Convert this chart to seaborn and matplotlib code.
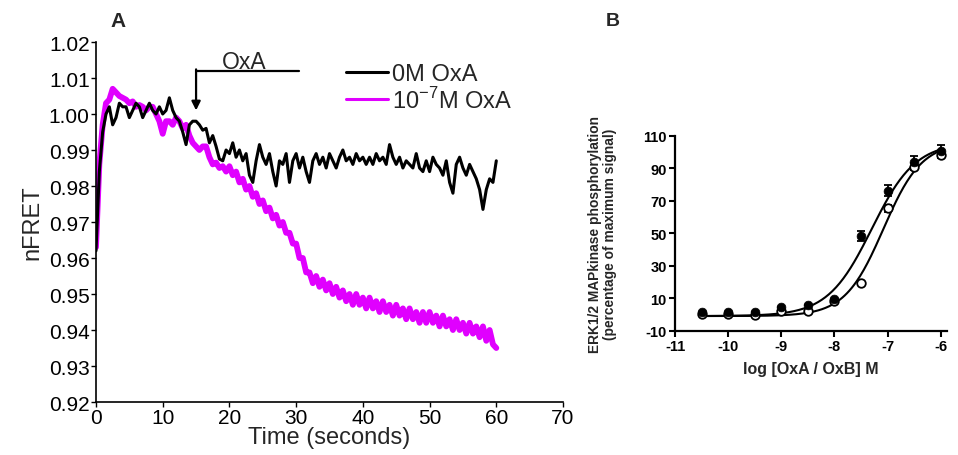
import numpy as np
import pandas as pd
import matplotlib
matplotlib.use("Agg")
import matplotlib.pyplot as plt
import seaborn as sns

# ---------------- Panel A data (nFRET traces, sampled every 0.5 s) ----------------
time_s = [i * 0.5 for i in range(121)]
nfret_0M = [
    0.962, 0.984, 0.995, 1.000, 1.002, 0.997, 0.999, 1.003, 1.002, 1.002,
    0.999, 1.001, 1.003, 1.002, 0.999, 1.001, 1.003, 1.001, 1.000, 1.002,
    1.000, 1.001, 1.0045, 1.001, 0.999, 0.998, 0.995, 0.9915, 0.997, 0.998,
    0.998, 0.997, 0.9955, 0.996, 0.992, 0.994, 0.991, 0.9875, 0.987, 0.990,
    0.989, 0.992, 0.988, 0.990, 0.987, 0.989, 0.983, 0.981, 0.987, 0.9915,
    0.988, 0.986, 0.989, 0.984, 0.980, 0.987, 0.986, 0.989, 0.981, 0.987,
    0.989, 0.985, 0.988, 0.984, 0.981, 0.987, 0.989, 0.986, 0.988, 0.985,
    0.989, 0.987, 0.985, 0.988, 0.990, 0.987, 0.988, 0.986, 0.989, 0.987,
    0.988, 0.986, 0.988, 0.986, 0.989, 0.987, 0.988, 0.986, 0.9915, 0.988,
    0.986, 0.988, 0.985, 0.987, 0.986, 0.985, 0.989, 0.985, 0.984, 0.987,
    0.984, 0.988, 0.986, 0.985, 0.983, 0.987, 0.981, 0.978, 0.986, 0.988,
    0.985, 0.983, 0.986, 0.984, 0.982, 0.979, 0.9735, 0.979, 0.982, 0.981,
    0.987,
]
nfret_1e7M = [
    0.963, 0.986, 0.997, 1.003, 1.004, 1.007, 1.006, 1.005, 1.0045, 1.004,
    1.003, 1.0035, 1.002, 1.0025, 1.002, 1.001, 1.002, 1.002, 1.000, 0.998,
    0.9945, 0.998, 0.998, 0.997, 0.999, 0.998, 0.996, 0.997, 0.994, 0.992,
    0.991, 0.990, 0.991, 0.991, 0.988, 0.986, 0.9865, 0.985, 0.9855, 0.984,
    0.9855, 0.983, 0.984, 0.981, 0.982, 0.979, 0.980, 0.977, 0.978, 0.975,
    0.976, 0.973, 0.974, 0.971, 0.972, 0.969, 0.970, 0.967, 0.967, 0.964,
    0.964, 0.960, 0.960, 0.956, 0.956, 0.953, 0.955, 0.952, 0.954, 0.951,
    0.953, 0.950, 0.952, 0.949, 0.951, 0.948, 0.950, 0.947, 0.950, 0.947,
    0.949, 0.946, 0.949, 0.946, 0.948, 0.945, 0.948, 0.945, 0.947, 0.944,
    0.947, 0.944, 0.946, 0.943, 0.946, 0.943, 0.945, 0.942, 0.945, 0.942,
    0.945, 0.942, 0.944, 0.941, 0.944, 0.941, 0.943, 0.940, 0.943, 0.940,
    0.942, 0.939, 0.942, 0.939, 0.941, 0.938, 0.941, 0.937, 0.940, 0.936,
    0.935,
]
series_names = ["0M OxA", r"10$^{\mathregular{-7}}$M OxA"]
series_colors = ["#000000", "#e000ff"]
oxa_start, oxa_end = 15, 30.5
yticks_a = [0.92, 0.93, 0.94, 0.95, 0.96, 0.97, 0.98, 0.99, 1.00, 1.01, 1.02]
xticks_a = [0, 10, 20, 30, 40, 50, 60, 70]

# ---------------- Panel B data (ERK1/2 phosphorylation) ----------------
log_conc = [-10.5, -10.0, -9.5, -9.0, -8.5, -8.0, -7.5, -7.0, -6.5, -6.0]
filled_mean = [1.3, 1.3, 1.3, 4.4, 5.8, 9.5, 48.1, 76.2, 94.0, 100.4]
filled_err = [0, 0, 0, 0, 0, 0, 3.0, 3.3, 3.6, 3.9]
open_mean = [0.0, 0.0, -0.5, 2.3, 2.3, 8.0, 19.1, 65.3, 90.9, 98.0]
open_err = [0, 0, 0, 0, 0, 0, 0, 2.0, 2.0, 2.0]
# fitted sigmoid parameters (bottom, top, logEC50, hill)
fit_filled = (-1.0, 106.0, -7.30, 1.05)
fit_open = (-1.0, 106.0, -7.08, 1.20)
xticks_b = [-11, -10, -9, -8, -7, -6]
yticks_b = [-10, 10, 30, 50, 70, 90, 110]

# ---------------- style ----------------
sns.set_style("ticks")
plt.rcParams["font.family"] = ["Liberation Sans", "DejaVu Sans"]
plt.rcParams["mathtext.fontset"] = "custom"
plt.rcParams["mathtext.rm"] = "Liberation Sans"

fig = plt.figure(figsize=(9.58, 4.56), dpi=100)

# ---------------- Panel A ----------------
axA = fig.add_axes([0.1002, 0.1162, 0.4875, 0.7895])
dfA = pd.DataFrame({"t": time_s, "a": nfret_0M, "b": nfret_1e7M})
sns.lineplot(data=dfA, x="t", y="b", ax=axA, color=series_colors[1], lw=4.2,
             estimator=None, label=series_names[1], zorder=2)
sns.lineplot(data=dfA, x="t", y="a", ax=axA, color=series_colors[0], lw=2.2,
             estimator=None, label=series_names[0], zorder=3)
axA.set_xlim(0, 70)
axA.set_ylim(0.92, 1.02)
axA.set_xticks(xticks_a)
axA.set_yticks(yticks_a)
axA.set_yticklabels([f"{v:.2f}" for v in yticks_a])
axA.tick_params(labelsize=15, length=3.5, width=1, direction="out", pad=1, colors="black")
axA.set_xlabel("Time (seconds)", fontsize=17, labelpad=-1)
axA.set_ylabel("nFRET", fontsize=17, labelpad=4)
for s in ["top", "right"]:
    axA.spines[s].set_visible(False)
for s in ["left", "bottom"]:
    axA.spines[s].set_linewidth(1.2)
    axA.spines[s].set_color("black")

# OxA application bracket
axA.plot([oxa_start, oxa_end], [1.0119, 1.0119], color="black", lw=1.6)
axA.annotate("", xy=(oxa_start, 1.0010), xytext=(oxa_start, 1.0124),
             arrowprops=dict(arrowstyle="-|>", color="black", lw=1.6,
                             mutation_scale=13, shrinkA=0, shrinkB=0))
axA.text(22.2, 1.0147, "OxA", fontsize=16.5, ha="center", va="center")

h, l = axA.get_legend_handles_labels()
leg = axA.legend(h[::-1], l[::-1], loc="upper left", bbox_to_anchor=(0.536, 0.942),
                 frameon=False, fontsize=17, handlelength=1.75, handletextpad=0.2,
                 labelspacing=0.08, borderpad=0, borderaxespad=0)
for line in leg.get_lines():
    line.set_linewidth(2.2)

fig.text(0.123, 0.952, "A", fontsize=15, fontweight="bold", ha="center", va="center")

# ---------------- Panel B ----------------
axB = fig.add_axes([0.7046, 0.2726, 0.2840, 0.4276])
xs = np.linspace(log_conc[0], log_conc[-1], 200)

def hill(x, p):
    b, t, ec, n = p
    return b + (t - b) / (1 + 10 ** ((ec - x) * n))

dfcurve = pd.DataFrame({"x": xs, "f": hill(xs, fit_filled), "o": hill(xs, fit_open)})
sns.lineplot(data=dfcurve, x="x", y="f", ax=axB, color="black", lw=1.5, estimator=None)
sns.lineplot(data=dfcurve, x="x", y="o", ax=axB, color="black", lw=1.5, estimator=None)

axB.errorbar(log_conc, filled_mean, yerr=filled_err, fmt="none", ecolor="black",
             elinewidth=1.3, capsize=3, capthick=1.3)
axB.errorbar(log_conc, open_mean, yerr=open_err, fmt="none", ecolor="black",
             elinewidth=1.3, capsize=3, capthick=1.3)
dfB = pd.DataFrame({"x": log_conc, "f": filled_mean, "o": open_mean})
sns.scatterplot(data=dfB, x="x", y="o", ax=axB, marker="o", s=38,
                facecolor="white", edgecolor="black", linewidth=1.3, zorder=4)
sns.scatterplot(data=dfB, x="x", y="f", ax=axB, marker="o", s=40,
                color="black", edgecolor="black", zorder=5)

axB.set_xlim(-11, -5.88)
axB.set_ylim(-10, 110)
axB.set_xticks(xticks_b)
axB.set_yticks(yticks_b)
axB.set_xticklabels([str(v) for v in xticks_b], fontweight="bold")
axB.set_yticklabels([str(v) for v in yticks_b], fontweight="bold")
axB.tick_params(labelsize=10.5, length=4.5, width=1.5, direction="out", pad=1.5, colors="black")
axB.set_xlabel("log [OxA / OxB] M", fontsize=11.5, fontweight="bold", labelpad=6)
axB.set_ylabel("ERK1/2 MAPkinase phosphorylation\n(percentage of maximum signal)",
               fontsize=9.9, fontweight="bold", labelpad=19, linespacing=1.05)
for s in ["top", "right"]:
    axB.spines[s].set_visible(False)
for s in ["left", "bottom"]:
    axB.spines[s].set_linewidth(1.6)
    axB.spines[s].set_color("black")

fig.text(0.640, 0.952, "B", fontsize=14, fontweight="bold", ha="center", va="center")

fig.savefig("out.png", dpi=100)
